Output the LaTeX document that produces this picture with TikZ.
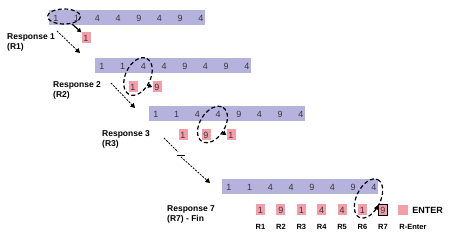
\documentclass[tikz,border=0pt]{standalone}
\usepackage{fontspec}
\setmainfont{Liberation Sans}
\usetikzlibrary{arrows.meta, positioning}

\definecolor{barblue}{RGB}{182,178,222}
\definecolor{cellpink}{RGB}{243,158,168}
\definecolor{digitgray}{RGB}{55,55,60}

\begin{document}
\begin{tikzpicture}[
    x=1pt, y=-1pt,
    digit/.style={inner sep=0pt, font=\fontsize{9}{9}\selectfont, text=digitgray},
    cell/.style={fill=cellpink, minimum width=9pt, minimum height=11pt, inner sep=0pt,
                 font=\fontsize{9}{9}\selectfont, text=digitgray},
    lbl/.style={align=left, anchor=north west, inner sep=0pt,
                font=\bfseries\fontsize{8.5}{10}\selectfont},
    rtag/.style={inner sep=0pt, font=\bfseries\fontsize{7.5}{7.5}\selectfont},
    ring/.style={very thick, dash pattern=on 4pt off 2.5pt},
    hop/.style={-{Triangle[length=4pt,width=4.5pt]}, very thick},
    jump/.style={-{Triangle[length=4.5pt,width=5pt]}, thick, dash pattern=on 2pt off 1.2pt}
]
\useasboundingbox (0,0) rectangle (451,243);

% sequences on the bars
\foreach \row/\xs/\yc in {1/56/18, 2/102/66, 3/156/114, 7/229/187} {
  \fill[barblue] (\xs-7, \yc-7.5) rectangle (\xs+149, \yc+7.5);
  \foreach \d [count=\i] in {1,1,4,4,9,4,9,4}
    \node[digit] (s\row-\i) at (\xs+20.7*\i-20.7, \yc) {\d};
}

% responses
\node[cell] (c1-1) at (86,38) {1};

\node[cell] (c2-1) at (133,87) {1};
\node[cell] (c2-2) at (157,87) {9};

\node[cell] (c3-1) at (183,135) {1};
\node[cell] (c3-2) at (206,135) {9};
\node[cell] (c3-3) at (231,135) {1};

\foreach \d [count=\i] in {1,9,1,4,4,1,9} {
  \node[cell] (c7-\i) at (260.5+20.4*\i-20.4, 210) {\d};
  \node[rtag] (t7-\i) at (260.5+20.4*\i-20.4, 227) {R\i};
}
\draw[very thick] (c7-7.south west) rectangle (c7-7.north east);

% key
\node[cell, minimum width=10pt, minimum height=10pt] (key) at (403,210) {};
\node[right=4pt of key, inner sep=0pt, font=\bfseries\fontsize{9}{9}\selectfont] (keytxt) {ENTER};
\node[rtag] (t7-e) at (413,227) {R-Enter};

% labels
\node[lbl] (resp1) at (7,33) {Response 1\\(R1)};
\node[lbl] (resp2) at (53,81) {Response 2\\(R2)};
\node[lbl] (resp3) at (102,130) {Response 3\\(R3)};
\node[lbl] (resp7) at (167,205) {Response 7\\(R7) - Fin};

% dashed rings
\draw[ring] (64,16.5) ellipse [x radius=16.5, y radius=7.5];
\draw[ring, shift={(138,76.5)}, rotate=64] (0,0) ellipse [x radius=20, y radius=12.5];
\draw[ring, shift={(212.5,124.5)}, rotate=58] (0,0) ellipse [x radius=20, y radius=12.5];
\draw[ring, shift={(368.5,198.5)}, rotate=64] (0,0) ellipse [x radius=21, y radius=12];

% short hops out of the rings
\coordinate (e1) at (72,24);
\coordinate (e2) at (147,85);
\coordinate (e3) at (222,132);
\coordinate (e7) at (376,207);
\draw[hop] (e1) -- (c1-1.north west);
\draw[hop] (e2) -- (c2-2.west);
\draw[hop] (e3) -- (c3-3.west);
\draw[hop] (e7) -- (c7-7.west);

% steps between rows
\coordinate (a1s) at (57,31);  \coordinate (a1e) at (80,53);
\coordinate (a2s) at (111,83); \coordinate (a2e) at (135,108);
\coordinate (a3s) at (164,138); \coordinate (a3m) at (178,152);
\coordinate (a3n) at (181,157); \coordinate (a3e) at (210,183);
\coordinate (bk1) at (177,155); \coordinate (bk2) at (185,155);
\draw[jump] (a1s) -- (a1e);
\draw[jump] (a2s) -- (a2e);
\draw[thick, dash pattern=on 2pt off 1.2pt] (a3s) -- (a3m);
\draw[thick] (bk1) -- (bk2);
\draw[jump] (a3n) -- (a3e);

\end{tikzpicture}
\end{document}
